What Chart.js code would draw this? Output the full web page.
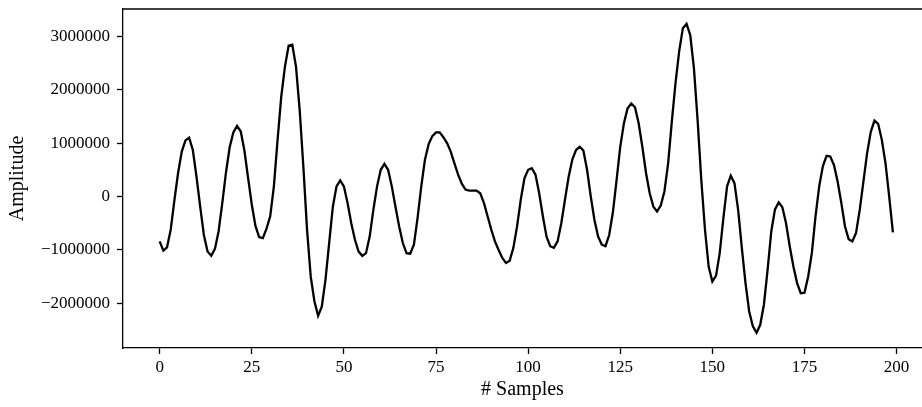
<!DOCTYPE html>
<html>
<head>
<meta charset="utf-8">
<script src="https://cdn.jsdelivr.net/npm/chart.js@4"></script>
<style>
  html, body { margin: 0; padding: 0; background: #fff; overflow: hidden; }
</style>
</head>
<body>
<canvas id="myChart" width="922" height="407"></canvas>
<script>
// amplitude per sample, 200 samples
const amplitude = [
  -840000, -1010000, -950000, -620000, -70000, 440000, 840000, 1050000, 1100000, 870000,
  370000, -190000, -720000, -1030000, -1110000, -980000, -650000, -120000, 450000, 920000,
  1200000, 1320000, 1220000, 860000, 350000, -150000, -550000, -760000, -780000, -600000,
  -370000, 190000, 1060000, 1870000, 2430000, 2820000, 2840000, 2430000, 1620000, 560000,
  -620000, -1500000, -1960000, -2230000, -2060000, -1560000, -870000, -190000, 190000, 300000,
  190000, -120000, -500000, -810000, -1030000, -1110000, -1060000, -750000, -250000, 190000,
  500000, 610000, 500000, 190000, -190000, -560000, -870000, -1060000, -1070000, -900000,
  -400000, 190000, 690000, 980000, 1130000, 1200000, 1200000, 1110000, 1000000, 840000,
  620000, 410000, 240000, 130000, 110000, 110000, 110000, 60000, -120000, -370000,
  -620000, -840000, -1000000, -1150000, -1245000, -1200000, -960000, -560000, -60000, 340000,
  500000, 530000, 410000, 60000, -370000, -750000, -930000, -960000, -840000, -500000,
  -60000, 370000, 690000, 870000, 930000, 860000, 500000, 0, -440000, -750000,
  -900000, -930000, -720000, -300000, 300000, 930000, 1370000, 1650000, 1740000, 1670000,
  1370000, 930000, 440000, 60000, -190000, -280000, -170000, 100000, 620000, 1400000,
  2120000, 2720000, 3150000, 3230000, 3020000, 2400000, 1430000, 310000, -620000, -1310000,
  -1590000, -1480000, -1060000, -400000, 190000, 390000, 250000, -250000, -960000, -1620000,
  -2150000, -2430000, -2550000, -2400000, -2020000, -1370000, -650000, -240000, -110000, -200000,
  -500000, -930000, -1310000, -1620000, -1810000, -1800000, -1500000, -1060000, -370000, 190000,
  570000, 760000, 750000, 590000, 280000, -120000, -560000, -800000, -840000, -680000,
  -250000, 280000, 810000, 1210000, 1420000, 1360000, 1060000, 620000, 0, -670000
];
const samples = amplitude.map((_, i) => i);
const xTicks = [0, 25, 50, 75, 100, 125, 150, 175, 200];
const yTicks = [-2000000, -1000000, 0, 1000000, 2000000, 3000000];

const points = samples.map((s, i) => ({ x: s, y: amplitude[i] }));

const tickFont = { family: '"Liberation Serif", serif', size: 17 };
const titleFont = { family: '"Liberation Serif", serif', size: 20 };

// top spine (right spine is cut off in the original)
const topSpine = {
    id: 'topSpine',
    afterDraw(chart) {
        const { ctx, chartArea } = chart;
        ctx.save();
        ctx.strokeStyle = '#000';
        ctx.lineWidth = 1.3;
        ctx.beginPath();
        ctx.moveTo(chartArea.left, chartArea.top);
        ctx.lineTo(chartArea.right, chartArea.top);
        ctx.stroke();
        ctx.restore();
    }
};

new Chart(document.getElementById('myChart'), {
    type: 'line',
    data: {
        datasets: [{
            data: points,
            borderColor: '#000',
            borderWidth: 2.3,
            pointRadius: 0,
            tension: 0,
            fill: false
        }]
    },
    options: {
        responsive: false,
        animation: false,
        events: [],
        layout: { padding: { top: 9, right: 0, left: 0, bottom: 0 } },
        plugins: {
            legend: { display: false },
            tooltip: { enabled: false }
        },
        scales: {
            x: {
                type: 'linear',
                min: -9.95,
                max: 206.9,
                afterBuildTicks: (scale) => { scale.ticks = xTicks.map(v => ({ value: v })); },
                afterFit: (scale) => {
                    scale.height = 59;
                    scale.paddingLeft = 0;
                    scale.paddingRight = 0;
                },
                grid: {
                    drawOnChartArea: false,
                    drawTicks: true,
                    tickLength: 6,
                    tickWidth: 1.3,
                    tickColor: '#000'
                },
                border: { display: true, color: '#000', width: 1.3 },
                ticks: {
                    color: '#000',
                    font: tickFont,
                    padding: 3,
                    maxRotation: 0,
                    autoSkip: false
                },
                title: {
                    display: true,
                    text: '# Samples',
                    color: '#000',
                    font: titleFont,
                    padding: { top: 0, bottom: 5 }
                }
            },
            y: {
                min: -2834000,
                max: 3508000,
                afterBuildTicks: (scale) => { scale.ticks = yTicks.map(v => ({ value: v })); },
                afterFit: (scale) => {
                    scale.width = 123;
                    scale.paddingTop = 0;
                    scale.paddingBottom = 0;
                },
                grid: {
                    drawOnChartArea: false,
                    drawTicks: true,
                    tickLength: 6,
                    tickWidth: 1.3,
                    tickColor: '#000'
                },
                border: { display: true, color: '#000', width: 1.3 },
                ticks: {
                    color: '#000',
                    font: tickFont,
                    padding: 7,
                    callback: (v) => v < 0 ? '\u2212' + Math.abs(v) : String(v)
                },
                title: {
                    display: true,
                    text: 'Amplitude',
                    color: '#000',
                    font: titleFont,
                    padding: { top: 6, bottom: 0 }
                }
            }
        }
    },
    plugins: [topSpine]
});
</script>
</body>
</html>
